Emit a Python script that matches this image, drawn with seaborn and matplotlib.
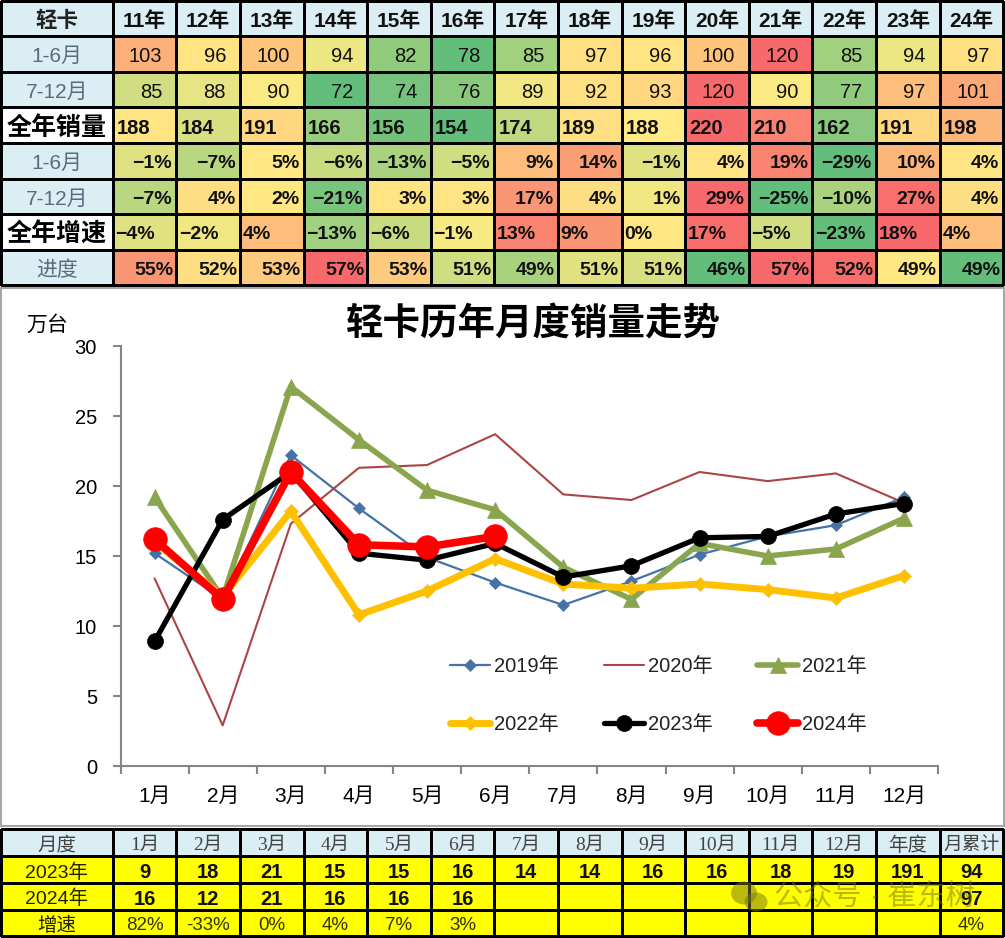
import numpy as np
import pandas as pd
import matplotlib
matplotlib.use("Agg")
import matplotlib.pyplot as plt
from matplotlib.colors import LinearSegmentedColormap, ListedColormap
from matplotlib.patches import Ellipse
import seaborn as sns

# top table
years = ['11年', '12年', '13年', '14年', '15年', '16年', '17年', '18年', '19年', '20年', '21年', '22年', '23年', '24年']
row_names = ['1-6月', '7-12月', '全年销量', '1-6月', '7-12月', '全年增速', '进度']
h1_sales = ['103', '96', '100', '94', '82', '78', '85', '97', '96', '100', '120', '85', '94', '97']
h2_sales = ['85', '88', '90', '72', '74', '76', '89', '92', '93', '120', '90', '77', '97', '101']
full_sales = ['188', '184', '191', '166', '156', '154', '174', '189', '188', '220', '210', '162', '191', '198']
h1_growth = ['−1%', '−7%', '5%', '−6%', '−13%', '−5%', '9%', '14%', '−1%', '4%', '19%', '−29%', '10%', '4%']
h2_growth = ['−7%', '4%', '2%', '−21%', '3%', '3%', '17%', '4%', '1%', '29%', '−25%', '−10%', '27%', '4%']
full_growth = ['−4%', '−2%', '4%', '−13%', '−6%', '−1%', '13%', '9%', '0%', '17%', '−5%', '−23%', '18%', '4%']
progress = ['55%', '52%', '53%', '57%', '53%', '51%', '49%', '51%', '51%', '46%', '57%', '52%', '49%', '49%']

# colour scale position of each cell (-1 green, 0 yellow, 1 red)
h1_sales_heat = [.45, .05, .3, -.12, -.7, -1, -.6, .08, .05, .3, 1, -.6, -.12, .08]
h2_sales_heat = [-.3, -.15, -.03, -1, -.88, -.75, -.08, .08, .15, 1, -.03, -.7, .35, .5]
full_sales_heat = [.05, -.25, .15, -.65, -.9, -1, -.4, .08, 0, 1, .8, -.75, .15, .4]
h1_growth_heat = [-.2, -.45, .03, -.35, -.55, -.3, .35, .6, -.2, .05, .8, -1, .4, .05]
h2_growth_heat = [-.45, .1, .03, -.85, .05, .05, .65, .1, -.1, 1, -1, -.55, .95, .1]
full_growth_heat = [-.2, -.1, .35, -.6, -.35, -.05, .8, .65, .02, .97, -.3, -1, 1, .35]
progress_heat = [.65, .1, .25, 1, .25, -.3, -.55, -.2, -.25, -1, 1, .97, .02, -1]

# chart series
months = ['1月', '2月', '3月', '4月', '5月', '6月', '7月', '8月', '9月', '10月', '11月', '12月']
s2019 = [15.2, 11.9, 22.2, 18.4, 14.9, 13.1, 11.5, 13.2, 15.1, 16.4, 17.2, 19.2]
s2020 = [13.4, 2.9, 17.3, 21.3, 21.5, 23.7, 19.4, 19.0, 21.0, 20.35, 20.9, 18.8]
s2021 = [19.2, 12.0, 27.1, 23.3, 19.7, 18.3, 14.2, 11.9, 15.9, 15.0, 15.5, 17.7]
s2022 = [16.0, 12.1, 18.2, 10.8, 12.5, 14.8, 13.0, 12.7, 13.0, 12.6, 12.0, 13.6]
s2023 = [8.9, 17.6, 21.0, 15.2, 14.7, 15.9, 13.5, 14.3, 16.3, 16.4, 18.0, 18.75]
s2024 = [16.2, 11.9, 21.0, 15.8, 15.65, 16.4]

# bottom table
bottom_head = months + ['年度', '月累计']
bottom_names = ['2023年', '2024年', '增速']
b2023 = ['9', '18', '21', '15', '15', '16', '14', '14', '16', '16', '18', '19', '191', '94']
b2024 = ['16', '12', '21', '16', '16', '16', '', '', '', '', '', '', '', '97']
bgrowth = ['82%', '-33%', '0%', '4%', '7%', '3%', '', '', '', '', '', '', '', '4%']

W, H = 1005, 938
SANS = ['Liberation Sans', 'Noto Sans CJK SC']
SERIF = ['Liberation Serif', 'Noto Sans CJK SC']
LIGHT = '#DAEEF3'

sns.set_theme(style='white')
plt.rcParams['font.family'] = SANS

fig = plt.figure(figsize=(W / 100, H / 100), dpi=100, facecolor='white')


def px_axes(x0, y0, x1, y1):
    return fig.add_axes([x0 / W, 1 - y1 / H, (x1 - x0) / W, (y1 - y0) / H])


def grid(ax, data, cmap, vmin=None, vmax=None):
    sns.heatmap(data, ax=ax, cmap=cmap, vmin=vmin, vmax=vmax, cbar=False, linewidths=0.75, linecolor='black',
                xticklabels=False, yticklabels=False)
    ax.collections[0].set_clip_on(False)


def put(ax, x, y, s, dx=0, dy=-2, ha='center', **kw):
    # cell text, nudged in points because the CJK fallback sits high
    ax.annotate(s, (x, y), xytext=(dx, dy), textcoords='offset points', ha=ha, va='center', **kw)


excel_scale = LinearSegmentedColormap.from_list('excel', ['#63BE7B', '#FFEB84', '#F8696B'])
X0, X1 = 112.7, 1003.3

# top table: header row
ax = px_axes(0.7, 0.7, 112.7, 36.3)
grid(ax, np.zeros((1, 1)), ListedColormap([LIGHT]))
put(ax, .5, .5, '轻卡', fontsize=15.5, fontweight='bold', color='#222222')
ax = px_axes(X0, 0.7, X1, 36.3)
grid(ax, np.zeros((1, len(years))), ListedColormap([LIGHT]))
for i, y in enumerate(years):
    put(ax, i + .5, .5, y, fontsize=15, fontweight='bold', color='#111111')

# top table: row names
is_bold = np.array([[0], [0], [1], [0], [0], [1], [0]])
ax = px_axes(0.7, 36.3, X0, 285.3)
grid(ax, is_bold, ListedColormap([LIGHT, 'white']))
for r, name in enumerate(row_names):
    if is_bold[r, 0]:
        put(ax, .5, r + .5, name, fontsize=18, fontweight='bold', color='black')
    else:
        put(ax, .5, r + .5, name, fontsize=15, color='#5A6B7B')

# top table: values
heat = np.array([h1_sales_heat, h2_sales_heat, full_sales_heat, h1_growth_heat, h2_growth_heat,
                 full_growth_heat, progress_heat])
rows = [h1_sales, h2_sales, full_sales, h1_growth, h2_growth, full_growth, progress]
# alignment, padding in points, font size, weight of each row
row_style = [('right', 10, 14.5, 'normal'), ('right', 10, 14.5, 'normal'), ('left', 3, 14.5, 'bold'),
             ('right', 3, 14, 'bold'), ('right', 3, 14, 'bold'), ('left', 2, 14, 'bold'),
             ('right', 2, 14, 'bold')]
ax = px_axes(X0, 36.3, X1, 285.3)
grid(ax, heat, excel_scale, -1, 1)
for r, vals in enumerate(rows):
    ha, pad, size, weight = row_style[r]
    for i, v in enumerate(vals):
        x = i + 1 if ha == 'right' else i
        off = -pad if ha == 'right' else pad
        put(ax, x, r + .5, v, dx=off, ha=ha, fontsize=size, fontweight=weight, color='#111111')

# chart panel
panel = px_axes(0.5, 288, 1003.5, 826)
panel.set_xticks([])
panel.set_yticks([])
panel.set_facecolor('white')
for s in panel.spines.values():
    s.set_visible(True)
    s.set_color('#A6A6A6')
    s.set_linewidth(1.5)

ax = px_axes(120.5, 346, 938, 766)
ax.patch.set_alpha(0)
month_idx = np.arange(len(months))
series = [
    ('2019年', s2019, '#4572A7', 1.6, 'D', 5.8),
    ('2020年', s2020, '#AA4643', 1.5, None, 0),
    ('2021年', s2021, '#89A54E', 4, '^', 12),
    ('2022年', s2022, '#FFC000', 5, 'D', 7.5),
    ('2023年', s2023, 'black', 3.8, 'o', 11.5),
    ('2024年', s2024, '#FF0000', 5.5, 'o', 17),
]
for name, vals, color, lw, marker, ms in series:
    sns.lineplot(x=month_idx[:len(vals)], y=vals, ax=ax, color=color, linewidth=lw, marker=marker,
                 markersize=ms, markeredgecolor=color, markeredgewidth=0.5, label=name, errorbar=None)
ax.set_xlim(-.5, 11.5)
ax.set_ylim(0, 30)
ax.set_yticks(range(0, 31, 5))
ax.tick_params(axis='y', labelsize=14.5, length=6, width=1.5, color='#868686', left=True, pad=11, labelcolor='black')
ax.set_xticks(np.arange(-.5, 12, 1))
ax.set_xticklabels([])
ax.set_xticks(month_idx, labels=months, minor=True)
ax.tick_params(axis='x', which='major', length=6, width=1.5, color='#868686', bottom=True)
ax.tick_params(axis='x', which='minor', length=0, labelsize=15, pad=15, labelcolor='black')
ax.set_xlabel('')
ax.set_ylabel('')
sns.despine(ax=ax)
for side in ['left', 'bottom']:
    ax.spines[side].set_color('#868686')
    ax.spines[side].set_linewidth(1.5)
handles, labels = ax.get_legend_handles_labels()
order = [0, 3, 1, 4, 2, 5]
leg = ax.legend([handles[i] for i in order], [labels[i] for i in order], ncol=3, frameon=False, fontsize=14.5,
                loc='upper left', bbox_to_anchor=(0.403, 0.259), handlelength=2, handletextpad=0.2,
                columnspacing=2.22, labelspacing=1.95, borderpad=0, borderaxespad=0)
for t in leg.get_texts():
    t.set_color('#222222')

fig.text(533 / W, 1 - 326 / H, '轻卡历年月度销量走势', ha='center', va='center', fontsize=27, fontweight='bold', color='black')
fig.text(47 / W, 1 - 325 / H, '万台', ha='center', va='center', fontsize=15, color='black')

# bottom table
ax = px_axes(0.7, 829.3, X0, 856.3)
grid(ax, np.zeros((1, 1)), ListedColormap([LIGHT]))
put(ax, .5, .5, '月度', fontsize=14, color='#444444')
ax = px_axes(X0, 829.3, X1, 856.3)
grid(ax, np.zeros((1, len(bottom_head))), ListedColormap([LIGHT]))
for i, m in enumerate(bottom_head):
    put(ax, i + .5, .5, m, fontsize=14 if i < 13 else 13.5, color='#444444', family=SERIF)

ax = px_axes(0.7, 856.3, X0, 936.3)
grid(ax, np.zeros((3, 1)), ListedColormap(['#FFFF00']))
for r, name in enumerate(bottom_names):
    put(ax, .5, r + .5, name, fontsize=14, color='#222200')

ax = px_axes(X0, 856.3, X1, 936.3)
grid(ax, np.zeros((3, len(bottom_head))), ListedColormap(['#FFFF00']))
for r, vals in enumerate([b2023, b2024]):
    for i, v in enumerate(vals):
        put(ax, i + .5, r + .5, v, fontsize=14.5, fontweight='bold', color='#111111')
for i, v in enumerate(bgrowth):
    put(ax, i + .5, 2.5, v, fontsize=13.5, color='#333300')

# watermark
wm = fig.add_axes([0, 0, 1, 1])
wm.set_xlim(0, W)
wm.set_ylim(H, 0)
wm.axis('off')
wm.add_patch(Ellipse((744, 893), 26, 23, color='#77771A', alpha=.5, lw=0))
wm.add_patch(Ellipse((756, 902), 23, 19, color='#77771A', alpha=.5, lw=0))
wm.text(874, 897, '公众号 · 崔东树', ha='center', va='center', fontsize=21, color='#77771A', alpha=.5)

fig.savefig('out.png', dpi=100)
